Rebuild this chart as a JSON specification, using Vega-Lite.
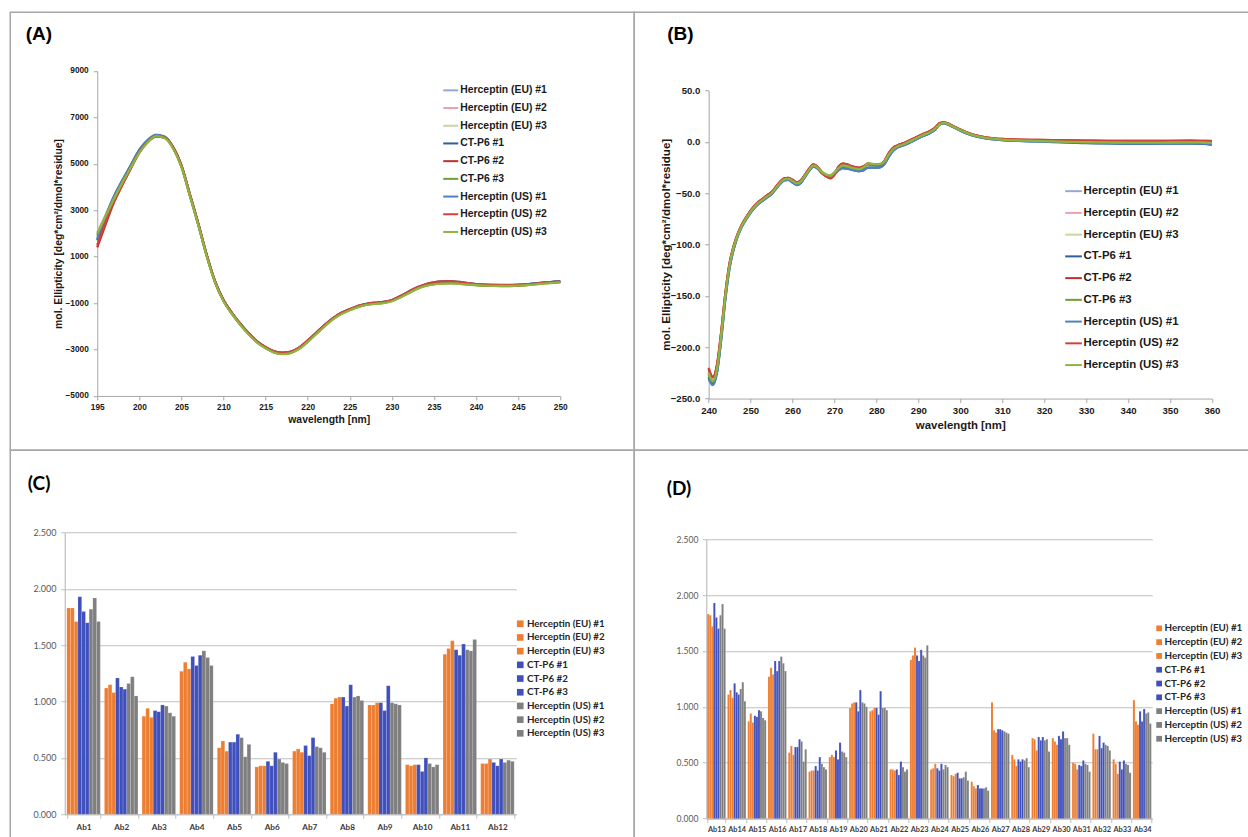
{
  "$schema": "https://vega.github.io/schema/vega-lite/v6.json",
  "background": "white",
  "padding": {"left": 9.25, "top": 11.25, "right": 0, "bottom": 0},
  "autosize": {"type": "pad"},
  "columns": 2,
  "spacing": 0,
  "bounds": "flush",
  "align": "each",
  "resolve": {"scale": {"color": "independent", "xOffset": "independent"}, "legend": {"color": "independent"}},
  "config": {
    "view": {"stroke": "#a6a6a6", "strokeWidth": 1.5},
    "axis": {"labelOverlap": false, "labelFlush": false, "labelBound": false},
    "legend": {"padding": 0}
  },
  "datasets": {
    "farUV": [
      {"nm":195,"e1":1800,"e2":2050,"e3":1950,"c1":1700,"c2":1400,"c3":1900,"u1":1750,"u2":1500,"u3":2000},
      {"nm":196,"e1":2650,"e2":2800,"e3":2750,"c1":2700,"c2":2400,"c3":2700,"u1":2750,"u2":2500,"u3":2750},
      {"nm":197,"e1":3500,"e2":3600,"e3":3550,"c1":3600,"c2":3350,"c3":3500,"u1":3600,"u2":3400,"u3":3500},
      {"nm":198,"e1":4200,"e2":4250,"e3":4250,"c1":4300,"c2":4100,"c3":4200,"u1":4300,"u2":4150,"u3":4200},
      {"nm":199,"e1":4880,"e2":4900,"e3":4920,"c1":4950,"c2":4800,"c3":4850,"u1":4950,"u2":4850,"u3":4850},
      {"nm":200,"e1":5520,"e2":5530,"e3":5580,"c1":5600,"c2":5480,"c3":5500,"u1":5600,"u2":5500,"u3":5480},
      {"nm":201,"e1":5980,"e2":5960,"e3":6040,"c1":6010,"c2":5940,"c3":5950,"u1":6020,"u2":5940,"u3":5930},
      {"nm":202,"e1":6220,"e2":6190,"e3":6260,"c1":6230,"c2":6170,"c3":6200,"u1":6240,"u2":6180,"u3":6190},
      {"nm":203,"e1":6150,"e2":6120,"e3":6180,"c1":6160,"c2":6130,"c3":6120,"u1":6160,"u2":6140,"u3":6110},
      {"nm":204,"e1":5700,"e2":5690,"e3":5710,"c1":5720,"c2":5730,"c3":5680,"u1":5710,"u2":5720,"u3":5670},
      {"nm":205,"e1":4900,"e2":4900,"e3":4880,"c1":4920,"c2":4930,"c3":4880,"u1":4900,"u2":4920,"u3":4870},
      {"nm":206,"e1":3660,"e2":3660,"e3":3640,"c1":3680,"c2":3690,"c3":3640,"u1":3660,"u2":3680,"u3":3630},
      {"nm":207,"e1":2400,"e2":2400,"e3":2380,"c1":2420,"c2":2430,"c3":2380,"u1":2400,"u2":2420,"u3":2370},
      {"nm":208,"e1":1060,"e2":1060,"e3":1040,"c1":1080,"c2":1080,"c3":1040,"u1":1060,"u2":1070,"u3":1030},
      {"nm":209,"e1":-90,"e2":-90,"e3":-110,"c1":-70,"c2":-80,"c3":-110,"u1":-90,"u2":-80,"u3":-120},
      {"nm":210,"e1":-890,"e2":-890,"e3":-910,"c1":-870,"c2":-880,"c3":-910,"u1":-890,"u2":-880,"u3":-920},
      {"nm":211,"e1":-1440,"e2":-1440,"e3":-1460,"c1":-1420,"c2":-1430,"c3":-1460,"u1":-1440,"u2":-1430,"u3":-1470},
      {"nm":212,"e1":-1910,"e2":-1910,"e3":-1930,"c1":-1890,"c2":-1900,"c3":-1930,"u1":-1910,"u2":-1900,"u3":-1940},
      {"nm":213,"e1":-2320,"e2":-2320,"e3":-2340,"c1":-2300,"c2":-2310,"c3":-2340,"u1":-2320,"u2":-2310,"u3":-2350},
      {"nm":214,"e1":-2670,"e2":-2670,"e3":-2690,"c1":-2650,"c2":-2660,"c3":-2690,"u1":-2670,"u2":-2660,"u3":-2700},
      {"nm":215,"e1":-2920,"e2":-2920,"e3":-2940,"c1":-2900,"c2":-2900,"c3":-2940,"u1":-2920,"u2":-2900,"u3":-2950},
      {"nm":216,"e1":-3100,"e2":-3100,"e3":-3120,"c1":-3080,"c2":-3080,"c3":-3120,"u1":-3100,"u2":-3080,"u3":-3130},
      {"nm":217,"e1":-3170,"e2":-3170,"e3":-3190,"c1":-3150,"c2":-3140,"c3":-3190,"u1":-3170,"u2":-3150,"u3":-3200},
      {"nm":218,"e1":-3120,"e2":-3120,"e3":-3140,"c1":-3100,"c2":-3090,"c3":-3140,"u1":-3120,"u2":-3100,"u3":-3150},
      {"nm":219,"e1":-2940,"e2":-2940,"e3":-2960,"c1":-2920,"c2":-2910,"c3":-2960,"u1":-2940,"u2":-2920,"u3":-2970},
      {"nm":220,"e1":-2640,"e2":-2640,"e3":-2660,"c1":-2620,"c2":-2610,"c3":-2660,"u1":-2640,"u2":-2620,"u3":-2670},
      {"nm":221,"e1":-2310,"e2":-2310,"e3":-2330,"c1":-2290,"c2":-2280,"c3":-2330,"u1":-2310,"u2":-2290,"u3":-2340},
      {"nm":222,"e1":-1970,"e2":-1970,"e3":-1990,"c1":-1950,"c2":-1950,"c3":-1990,"u1":-1970,"u2":-1950,"u3":-2000},
      {"nm":223,"e1":-1670,"e2":-1670,"e3":-1690,"c1":-1650,"c2":-1660,"c3":-1690,"u1":-1670,"u2":-1650,"u3":-1700},
      {"nm":224,"e1":-1440,"e2":-1440,"e3":-1460,"c1":-1420,"c2":-1430,"c3":-1460,"u1":-1440,"u2":-1420,"u3":-1470},
      {"nm":225,"e1":-1280,"e2":-1280,"e3":-1300,"c1":-1260,"c2":-1270,"c3":-1300,"u1":-1280,"u2":-1260,"u3":-1310},
      {"nm":226,"e1":-1140,"e2":-1140,"e3":-1160,"c1":-1120,"c2":-1140,"c3":-1160,"u1":-1140,"u2":-1120,"u3":-1170},
      {"nm":227,"e1":-1050,"e2":-1050,"e3":-1070,"c1":-1030,"c2":-1050,"c3":-1070,"u1":-1050,"u2":-1030,"u3":-1080},
      {"nm":228,"e1":-1000,"e2":-1000,"e3":-1020,"c1":-980,"c2":-1000,"c3":-1020,"u1":-1000,"u2":-980,"u3":-1030},
      {"nm":229,"e1":-970,"e2":-970,"e3":-990,"c1":-950,"c2":-970,"c3":-990,"u1":-970,"u2":-950,"u3":-1000},
      {"nm":230,"e1":-890,"e2":-890,"e3":-910,"c1":-870,"c2":-890,"c3":-910,"u1":-890,"u2":-870,"u3":-920},
      {"nm":231,"e1":-730,"e2":-730,"e3":-750,"c1":-700,"c2":-730,"c3":-750,"u1":-730,"u2":-700,"u3":-760},
      {"nm":232,"e1":-530,"e2":-530,"e3":-560,"c1":-500,"c2":-530,"c3":-560,"u1":-530,"u2":-500,"u3":-570},
      {"nm":233,"e1":-350,"e2":-350,"e3":-380,"c1":-320,"c2":-350,"c3":-380,"u1":-350,"u2":-320,"u3":-390},
      {"nm":234,"e1":-220,"e2":-220,"e3":-250,"c1":-190,"c2":-220,"c3":-250,"u1":-220,"u2":-190,"u3":-260},
      {"nm":235,"e1":-150,"e2":-150,"e3":-180,"c1":-110,"c2":-150,"c3":-180,"u1":-150,"u2":-110,"u3":-190},
      {"nm":236,"e1":-110,"e2":-110,"e3":-150,"c1":-70,"c2":-110,"c3":-150,"u1":-110,"u2":-70,"u3":-160},
      {"nm":237,"e1":-100,"e2":-100,"e3":-140,"c1":-60,"c2":-100,"c3":-140,"u1":-100,"u2":-60,"u3":-150},
      {"nm":238,"e1":-120,"e2":-120,"e3":-160,"c1":-90,"c2":-120,"c3":-160,"u1":-120,"u2":-90,"u3":-170},
      {"nm":239,"e1":-160,"e2":-160,"e3":-190,"c1":-140,"c2":-170,"c3":-190,"u1":-160,"u2":-140,"u3":-200},
      {"nm":240,"e1":-190,"e2":-190,"e3":-220,"c1":-180,"c2":-210,"c3":-220,"u1":-190,"u2":-180,"u3":-230},
      {"nm":242,"e1":-230,"e2":-240,"e3":-250,"c1":-220,"c2":-260,"c3":-250,"u1":-230,"u2":-220,"u3":-260},
      {"nm":244,"e1":-240,"e2":-250,"e3":-250,"c1":-220,"c2":-270,"c3":-250,"u1":-230,"u2":-230,"u3":-260},
      {"nm":246,"e1":-200,"e2":-200,"e3":-220,"c1":-190,"c2":-210,"c3":-220,"u1":-190,"u2":-200,"u3":-230},
      {"nm":248,"e1":-130,"e2":-130,"e3":-150,"c1":-120,"c2":-130,"c3":-150,"u1":-120,"u2":-130,"u3":-160},
      {"nm":250,"e1":-80,"e2":-80,"e3":-100,"c1":-70,"c2":-80,"c3":-100,"u1":-70,"u2":-80,"u3":-110}
    ],
    "nearUV": [
      {"nm":240,"e1":-224,"e2":-222,"e3":-226,"c1":-229,"c2":-221,"c3":-227,"u1":-231,"u2":-220,"u3":-225},
      {"nm":241,"e1":-233,"e2":-230,"e3":-234,"c1":-236,"c2":-229,"c3":-234,"u1":-237,"u2":-229,"u3":-233},
      {"nm":242,"e1":-221,"e2":-218,"e3":-222,"c1":-224,"c2":-217,"c3":-222,"u1":-225,"u2":-217,"u3":-221},
      {"nm":243,"e1":-189,"e2":-186,"e3":-190,"c1":-192,"c2":-185,"c3":-189,"u1":-192,"u2":-185,"u3":-188},
      {"nm":244,"e1":-150,"e2":-148,"e3":-151,"c1":-152,"c2":-147,"c3":-150,"u1":-153,"u2":-147,"u3":-149},
      {"nm":245,"e1":-121,"e2":-119,"e3":-121,"c1":-122,"c2":-118,"c3":-120,"u1":-123,"u2":-118,"u3":-120},
      {"nm":246,"e1":-103,"e2":-101,"e3":-103,"c1":-104,"c2":-101,"c3":-102,"u1":-104,"u2":-101,"u3":-102},
      {"nm":247,"e1":-91,"e2":-89,"e3":-90,"c1":-91,"c2":-89,"c3":-90,"u1":-91,"u2":-89,"u3":-90},
      {"nm":248,"e1":-81,"e2":-80,"e3":-81,"c1":-82,"c2":-80,"c3":-81,"u1":-82,"u2":-80,"u3":-81},
      {"nm":249,"e1":-74,"e2":-73,"e3":-74,"c1":-75,"c2":-73,"c3":-74,"u1":-75,"u2":-73,"u3":-74},
      {"nm":250,"e1":-68,"e2":-67,"e3":-68,"c1":-69,"c2":-67,"c3":-68,"u1":-69,"u2":-67,"u3":-68},
      {"nm":251,"e1":-63,"e2":-62,"e3":-63,"c1":-64,"c2":-62,"c3":-63,"u1":-64,"u2":-62,"u3":-63},
      {"nm":252,"e1":-59,"e2":-58,"e3":-59,"c1":-60,"c2":-58,"c3":-59,"u1":-60,"u2":-58,"u3":-59},
      {"nm":253,"e1":-56,"e2":-55,"e3":-56,"c1":-57,"c2":-55,"c3":-56,"u1":-57,"u2":-55,"u3":-56},
      {"nm":254,"e1":-53,"e2":-52,"e3":-53,"c1":-54,"c2":-52,"c3":-53,"u1":-54,"u2":-52,"u3":-53},
      {"nm":255,"e1":-50,"e2":-49,"e3":-50,"c1":-51,"c2":-49,"c3":-50,"u1":-51,"u2":-49,"u3":-50},
      {"nm":256,"e1":-45,"e2":-44,"e3":-45,"c1":-46,"c2":-44,"c3":-45,"u1":-46,"u2":-44,"u3":-45},
      {"nm":257,"e1":-40,"e2":-39,"e3":-40,"c1":-41,"c2":-39,"c3":-40,"u1":-41,"u2":-39,"u3":-40},
      {"nm":258,"e1":-36.5,"e2":-35.5,"e3":-36,"c1":-37.5,"c2":-35.5,"c3":-36.5,"u1":-37.5,"u2":-35.5,"u3":-36.5},
      {"nm":259,"e1":-36,"e2":-35,"e3":-35.5,"c1":-37,"c2":-35,"c3":-36,"u1":-37,"u2":-35,"u3":-36},
      {"nm":260,"e1":-38,"e2":-37,"e3":-37.5,"c1":-39.5,"c2":-37,"c3":-38,"u1":-39.5,"u2":-37,"u3":-38},
      {"nm":261,"e1":-40.5,"e2":-39.5,"e3":-40,"c1":-42,"c2":-39.5,"c3":-40.5,"u1":-42,"u2":-39.5,"u3":-40.5},
      {"nm":262,"e1":-38.5,"e2":-37.5,"e3":-38,"c1":-40,"c2":-37.5,"c3":-38.5,"u1":-40,"u2":-37.5,"u3":-38.5},
      {"nm":263,"e1":-33,"e2":-32,"e3":-32.5,"c1":-34,"c2":-32,"c3":-33,"u1":-34,"u2":-32,"u3":-33},
      {"nm":264,"e1":-27,"e2":-26,"e3":-26.5,"c1":-28,"c2":-26,"c3":-27,"u1":-28,"u2":-26,"u3":-27},
      {"nm":265,"e1":-23,"e2":-22,"e3":-22.5,"c1":-24,"c2":-22,"c3":-23,"u1":-24,"u2":-22,"u3":-23},
      {"nm":266,"e1":-25,"e2":-24.5,"e3":-24.5,"c1":-26,"c2":-24.5,"c3":-25,"u1":-26,"u2":-24.5,"u3":-25},
      {"nm":267,"e1":-29.5,"e2":-29.5,"e3":-29,"c1":-30.5,"c2":-30,"c3":-29.5,"u1":-30.5,"u2":-30,"u3":-29.5},
      {"nm":268,"e1":-32,"e2":-32.5,"e3":-31.5,"c1":-33,"c2":-33.5,"c3":-32,"u1":-33,"u2":-33.5,"u3":-32},
      {"nm":269,"e1":-33,"e2":-34,"e3":-32.5,"c1":-34,"c2":-35.5,"c3":-33,"u1":-34,"u2":-35,"u3":-33},
      {"nm":270,"e1":-30,"e2":-31,"e3":-29.5,"c1":-31.5,"c2":-32,"c3":-30,"u1":-31.5,"u2":-31.5,"u3":-30},
      {"nm":271,"e1":-25.5,"e2":-25,"e3":-25,"c1":-27.5,"c2":-24,"c3":-25.5,"u1":-27.5,"u2":-24,"u3":-25.5},
      {"nm":272,"e1":-23,"e2":-22,"e3":-22.5,"c1":-25.5,"c2":-21,"c3":-23,"u1":-25.5,"u2":-21.5,"u3":-23},
      {"nm":273,"e1":-23.5,"e2":-22.5,"e3":-23,"c1":-26,"c2":-22,"c3":-23.5,"u1":-26,"u2":-22,"u3":-23.5},
      {"nm":274,"e1":-25,"e2":-24,"e3":-24.5,"c1":-27,"c2":-23.5,"c3":-25,"u1":-27,"u2":-23.5,"u3":-25},
      {"nm":275,"e1":-26,"e2":-25,"e3":-25.5,"c1":-28,"c2":-24.5,"c3":-26,"u1":-28,"u2":-25,"u3":-26},
      {"nm":276,"e1":-26.5,"e2":-25.5,"e3":-26,"c1":-28.5,"c2":-25,"c3":-26.5,"u1":-28.5,"u2":-25.5,"u3":-26.5},
      {"nm":277,"e1":-25,"e2":-24,"e3":-24.5,"c1":-27.5,"c2":-23.5,"c3":-25,"u1":-27.5,"u2":-24,"u3":-24.5},
      {"nm":278,"e1":-22,"e2":-21.5,"e3":-21,"c1":-25,"c2":-21,"c3":-22,"u1":-25,"u2":-21.5,"u3":-21},
      {"nm":279,"e1":-22.5,"e2":-22,"e3":-21.5,"c1":-25,"c2":-22,"c3":-22.5,"u1":-25,"u2":-22,"u3":-21.5},
      {"nm":280,"e1":-23,"e2":-22.5,"e3":-22,"c1":-25,"c2":-22.5,"c3":-23,"u1":-25,"u2":-22.5,"u3":-22},
      {"nm":281,"e1":-22.5,"e2":-22,"e3":-21.5,"c1":-24.5,"c2":-22,"c3":-22.5,"u1":-24.5,"u2":-22,"u3":-21.5},
      {"nm":282,"e1":-19,"e2":-18,"e3":-18.5,"c1":-21,"c2":-18,"c3":-19,"u1":-21,"u2":-18,"u3":-18.5},
      {"nm":283,"e1":-12,"e2":-11,"e3":-11.5,"c1":-14,"c2":-10.5,"c3":-12,"u1":-14,"u2":-11,"u3":-12},
      {"nm":284,"e1":-7,"e2":-6,"e3":-6.5,"c1":-8.5,"c2":-5.5,"c3":-7,"u1":-8.5,"u2":-6,"u3":-7},
      {"nm":285,"e1":-4.5,"e2":-3.5,"e3":-4,"c1":-5.5,"c2":-3.5,"c3":-4.5,"u1":-5.5,"u2":-3.5,"u3":-4.5},
      {"nm":286,"e1":-3,"e2":-2,"e3":-2.5,"c1":-4,"c2":-2,"c3":-3,"u1":-4,"u2":-2,"u3":-3},
      {"nm":287,"e1":-1.5,"e2":-0.5,"e3":-1,"c1":-2.5,"c2":-0.5,"c3":-1.5,"u1":-2.5,"u2":-0.5,"u3":-1.5},
      {"nm":288,"e1":0.5,"e2":1.5,"e3":1,"c1":-0.5,"c2":1.5,"c3":0.5,"u1":-0.5,"u2":1.5,"u3":0.5},
      {"nm":289,"e1":2.5,"e2":3.5,"e3":3,"c1":1.5,"c2":3.5,"c3":2.5,"u1":1.5,"u2":3.5,"u3":2.5},
      {"nm":290,"e1":4.5,"e2":5.5,"e3":5,"c1":3.5,"c2":5.5,"c3":4.5,"u1":3.5,"u2":5.5,"u3":4.5},
      {"nm":291,"e1":6.5,"e2":7,"e3":7,"c1":5.5,"c2":7.5,"c3":6.5,"u1":5.5,"u2":7.5,"u3":6.5},
      {"nm":292,"e1":8,"e2":8.5,"e3":8.5,"c1":7,"c2":9,"c3":8,"u1":7,"u2":9,"u3":8},
      {"nm":293,"e1":10,"e2":10.5,"e3":10.5,"c1":9,"c2":11,"c3":10,"u1":9,"u2":11,"u3":10},
      {"nm":294,"e1":13,"e2":13.5,"e3":13.5,"c1":12,"c2":14,"c3":13,"u1":12,"u2":14,"u3":13},
      {"nm":295,"e1":17,"e2":17.5,"e3":17.5,"c1":16.5,"c2":18,"c3":17,"u1":16.5,"u2":18,"u3":17},
      {"nm":296,"e1":18.5,"e2":18.5,"e3":19,"c1":18,"c2":19,"c3":18.5,"u1":18,"u2":19,"u3":18.5},
      {"nm":297,"e1":17.5,"e2":17.5,"e3":18,"c1":17,"c2":18,"c3":17.5,"u1":17,"u2":18,"u3":17.5},
      {"nm":298,"e1":15.5,"e2":15.5,"e3":16,"c1":15,"c2":16,"c3":15.5,"u1":15,"u2":16,"u3":15.5},
      {"nm":299,"e1":13.5,"e2":13.5,"e3":14,"c1":13,"c2":14,"c3":13.5,"u1":13,"u2":14,"u3":13.5},
      {"nm":300,"e1":11.5,"e2":11.5,"e3":12,"c1":11,"c2":12,"c3":11.5,"u1":11,"u2":12,"u3":11.5},
      {"nm":302,"e1":8,"e2":8,"e3":8.5,"c1":7.5,"c2":8.5,"c3":8,"u1":7.5,"u2":8.5,"u3":8},
      {"nm":304,"e1":5.5,"e2":5.5,"e3":6,"c1":5,"c2":6,"c3":5.5,"u1":5,"u2":6,"u3":5.5},
      {"nm":306,"e1":4,"e2":4,"e3":4.5,"c1":3.5,"c2":4.5,"c3":4,"u1":3.5,"u2":4.5,"u3":4},
      {"nm":308,"e1":3,"e2":3,"e3":3.5,"c1":2.5,"c2":3.5,"c3":3,"u1":2.5,"u2":3.5,"u3":3},
      {"nm":310,"e1":2.3,"e2":2.5,"e3":2.5,"c1":1.8,"c2":2.8,"c3":2.3,"u1":1.8,"u2":2.8,"u3":2.2},
      {"nm":314,"e1":1.6,"e2":1.9,"e3":1.6,"c1":0.9,"c2":2.2,"c3":1.5,"u1":1,"u2":2.2,"u3":1.4},
      {"nm":318,"e1":1.2,"e2":1.6,"e3":1.1,"c1":0.4,"c2":2,"c3":1,"u1":0.5,"u2":2,"u3":0.9},
      {"nm":322,"e1":0.9,"e2":1.4,"e3":0.8,"c1":-0.1,"c2":1.8,"c3":0.6,"u1":0,"u2":1.8,"u3":0.5},
      {"nm":326,"e1":0.5,"e2":1,"e3":0.4,"c1":-0.6,"c2":1.5,"c3":0.2,"u1":-0.5,"u2":1.5,"u3":0.1},
      {"nm":330,"e1":0.2,"e2":0.8,"e3":0,"c1":-1.2,"c2":1.2,"c3":-0.2,"u1":-1,"u2":1.2,"u3":-0.3},
      {"nm":335,"e1":0,"e2":0.7,"e3":-0.2,"c1":-1.5,"c2":1,"c3":-0.4,"u1":-1.4,"u2":1,"u3":-0.5},
      {"nm":340,"e1":-0.2,"e2":0.6,"e3":-0.4,"c1":-1.8,"c2":0.9,"c3":-0.6,"u1":-1.7,"u2":0.9,"u3":-0.7},
      {"nm":345,"e1":-0.2,"e2":0.6,"e3":-0.4,"c1":-1.8,"c2":0.9,"c3":-0.6,"u1":-1.7,"u2":0.9,"u3":-0.7},
      {"nm":350,"e1":-0.2,"e2":0.7,"e3":-0.3,"c1":-1.7,"c2":1,"c3":-0.5,"u1":-1.6,"u2":1,"u3":-0.6},
      {"nm":355,"e1":-0.1,"e2":0.8,"e3":-0.2,"c1":-1.6,"c2":1.1,"c3":-0.4,"u1":-1.5,"u2":1.1,"u3":-0.5},
      {"nm":358,"e1":-0.2,"e2":0.7,"e3":-0.3,"c1":-1.8,"c2":1,"c3":-0.5,"u1":-1.7,"u2":1,"u3":-0.6},
      {"nm":360,"e1":-0.5,"e2":0.6,"e3":-0.6,"c1":-2.8,"c2":0.8,"c3":-0.8,"u1":-3,"u2":0.9,"u3":-0.9}
    ],
    "elisaC": [
      {"ab":"Ab1","e1":1.83,"e2":1.83,"e3":1.71,"c1":1.93,"c2":1.80,"c3":1.70,"u1":1.82,"u2":1.92,"u3":1.71},
      {"ab":"Ab2","e1":1.12,"e2":1.15,"e3":1.08,"c1":1.21,"c2":1.13,"c3":1.11,"u1":1.16,"u2":1.22,"u3":1.05},
      {"ab":"Ab3","e1":0.87,"e2":0.94,"e3":0.86,"c1":0.92,"c2":0.91,"c3":0.97,"u1":0.96,"u2":0.90,"u3":0.87},
      {"ab":"Ab4","e1":1.27,"e2":1.35,"e3":1.29,"c1":1.40,"c2":1.32,"c3":1.41,"u1":1.45,"u2":1.39,"u3":1.32},
      {"ab":"Ab5","e1":0.59,"e2":0.65,"e3":0.56,"c1":0.64,"c2":0.64,"c3":0.71,"u1":0.68,"u2":0.51,"u3":0.62},
      {"ab":"Ab6","e1":0.42,"e2":0.43,"e3":0.43,"c1":0.47,"c2":0.43,"c3":0.55,"u1":0.49,"u2":0.46,"u3":0.45},
      {"ab":"Ab7","e1":0.56,"e2":0.58,"e3":0.55,"c1":0.61,"c2":0.52,"c3":0.68,"u1":0.60,"u2":0.59,"u3":0.55},
      {"ab":"Ab8","e1":0.98,"e2":1.03,"e3":1.04,"c1":1.04,"c2":0.96,"c3":1.15,"u1":1.04,"u2":1.05,"u3":1.01},
      {"ab":"Ab9","e1":0.97,"e2":0.97,"e3":0.99,"c1":0.99,"c2":0.92,"c3":1.14,"u1":0.99,"u2":0.98,"u3":0.97},
      {"ab":"Ab10","e1":0.44,"e2":0.43,"e3":0.44,"c1":0.44,"c2":0.38,"c3":0.50,"u1":0.45,"u2":0.42,"u3":0.44},
      {"ab":"Ab11","e1":1.42,"e2":1.47,"e3":1.54,"c1":1.46,"c2":1.41,"c3":1.51,"u1":1.46,"u2":1.45,"u3":1.55},
      {"ab":"Ab12","e1":0.45,"e2":0.45,"e3":0.49,"c1":0.46,"c2":0.43,"c3":0.49,"u1":0.46,"u2":0.48,"u3":0.47}
    ],
    "elisaD": [
      {"ab":"Ab13","e1":1.83,"e2":1.82,"e3":1.72,"c1":1.93,"c2":1.80,"c3":1.70,"u1":1.82,"u2":1.92,"u3":1.70},
      {"ab":"Ab14","e1":1.11,"e2":1.15,"e3":1.08,"c1":1.21,"c2":1.13,"c3":1.11,"u1":1.16,"u2":1.22,"u3":1.05},
      {"ab":"Ab15","e1":0.87,"e2":0.94,"e3":0.86,"c1":0.92,"c2":0.91,"c3":0.97,"u1":0.96,"u2":0.90,"u3":0.88},
      {"ab":"Ab16","e1":1.27,"e2":1.35,"e3":1.29,"c1":1.41,"c2":1.32,"c3":1.41,"u1":1.45,"u2":1.39,"u3":1.32},
      {"ab":"Ab17","e1":0.59,"e2":0.65,"e3":0.57,"c1":0.64,"c2":0.64,"c3":0.71,"u1":0.69,"u2":0.51,"u3":0.62},
      {"ab":"Ab18","e1":0.42,"e2":0.43,"e3":0.43,"c1":0.47,"c2":0.43,"c3":0.55,"u1":0.49,"u2":0.46,"u3":0.44},
      {"ab":"Ab19","e1":0.55,"e2":0.57,"e3":0.55,"c1":0.61,"c2":0.53,"c3":0.68,"u1":0.60,"u2":0.59,"u3":0.55},
      {"ab":"Ab20","e1":0.99,"e2":1.03,"e3":1.04,"c1":1.04,"c2":0.96,"c3":1.15,"u1":1.04,"u2":1.03,"u3":1.00},
      {"ab":"Ab21","e1":0.96,"e2":0.97,"e3":0.99,"c1":0.99,"c2":0.93,"c3":1.14,"u1":0.99,"u2":0.99,"u3":0.97},
      {"ab":"Ab22","e1":0.44,"e2":0.44,"e3":0.43,"c1":0.44,"c2":0.39,"c3":0.51,"u1":0.46,"u2":0.42,"u3":0.44},
      {"ab":"Ab23","e1":1.42,"e2":1.46,"e3":1.53,"c1":1.46,"c2":1.41,"c3":1.51,"u1":1.46,"u2":1.44,"u3":1.55},
      {"ab":"Ab24","e1":0.44,"e2":0.45,"e3":0.49,"c1":0.45,"c2":0.43,"c3":0.49,"u1":0.44,"u2":0.48,"u3":0.46},
      {"ab":"Ab25","e1":0.39,"e2":0.38,"e3":0.40,"c1":0.41,"c2":0.36,"c3":0.36,"u1":0.37,"u2":0.42,"u3":0.34},
      {"ab":"Ab26","e1":0.33,"e2":0.29,"e3":0.27,"c1":0.30,"c2":0.27,"c3":0.27,"u1":0.27,"u2":0.28,"u3":0.25},
      {"ab":"Ab27","e1":1.04,"e2":0.79,"e3":0.77,"c1":0.80,"c2":0.80,"c3":0.79,"u1":0.78,"u2":0.77,"u3":0.76},
      {"ab":"Ab28","e1":0.57,"e2":0.53,"e3":0.47,"c1":0.53,"c2":0.51,"c3":0.53,"u1":0.52,"u2":0.54,"u3":0.46},
      {"ab":"Ab29","e1":0.72,"e2":0.71,"e3":0.61,"c1":0.73,"c2":0.70,"c3":0.73,"u1":0.70,"u2":0.71,"u3":0.60},
      {"ab":"Ab30","e1":0.72,"e2":0.69,"e3":0.66,"c1":0.74,"c2":0.71,"c3":0.78,"u1":0.72,"u2":0.72,"u3":0.66},
      {"ab":"Ab31","e1":0.50,"e2":0.49,"e3":0.44,"c1":0.48,"c2":0.47,"c3":0.52,"u1":0.49,"u2":0.48,"u3":0.42},
      {"ab":"Ab32","e1":0.76,"e2":0.62,"e3":0.62,"c1":0.74,"c2":0.63,"c3":0.68,"u1":0.66,"u2":0.65,"u3":0.61},
      {"ab":"Ab33","e1":0.53,"e2":0.49,"e3":0.40,"c1":0.51,"c2":0.44,"c3":0.52,"u1":0.49,"u2":0.48,"u3":0.41},
      {"ab":"Ab34","e1":1.06,"e2":0.87,"e3":0.84,"c1":0.96,"c2":0.87,"c3":0.98,"u1":0.94,"u2":0.95,"u3":0.85}
    ]
  },
  "concat": [
    {
      "width": 624,
      "height": 438,
      "title": {"text": "(A)", "anchor": "start", "frame": "group", "orient": "top", "offset": -46.5, "baseline": "alphabetic", "dx": 15.5, "font": "Liberation Sans", "fontSize": 19, "fontWeight": "bold", "color": "#000000"},
      "data": {"name": "farUV"},
      "transform": [{"fold": ["e1", "e2", "e3", "c1", "c2", "c3", "u1", "u2", "u3"], "as": ["series", "value"]}],
      "mark": {"type": "line", "strokeWidth": 2.3, "interpolate": "monotone"},
      "encoding": {
        "x": {
          "field": "nm", "type": "quantitative",
          "scale": {"domain": [195, 250], "range": [87, 550], "nice": false, "zero": false},
          "axis": {"orient": "bottom", "offset": -54.3, "values": [195, 200, 205, 210, 215, 220, 225, 230, 235, 240, 245, 250], "grid": false,
            "tickSize": 4, "tickColor": "#a6a6a6", "domainColor": "#a6a6a6",
            "labelFont": "Liberation Sans", "labelFontSize": 8.3, "labelFontWeight": "bold", "labelColor": "#1a1a1a", "labelPadding": 2.3,
            "title": "wavelength [nm]", "titleFont": "Liberation Sans", "titleFontSize": 10.4, "titleFontWeight": "bold", "titleColor": "#1a1a1a", "titleY": 23.3, "titleBaseline": "middle"}
        },
        "y": {
          "field": "value", "type": "quantitative",
          "scale": {"domain": [-5000, 9000], "range": [383.7, 58.7], "nice": false, "zero": false},
          "axis": {"orient": "left", "offset": -87, "values": [-5000, -3000, -1000, 1000, 3000, 5000, 7000, 9000], "format": "d", "grid": false,
            "tickSize": 4, "tickColor": "#a6a6a6", "domainColor": "#a6a6a6",
            "labelFont": "Liberation Sans", "labelFontSize": 8.3, "labelFontWeight": "bold", "labelColor": "#1a1a1a", "labelPadding": 5,
            "title": "mol. Ellipticity [deg*cm²/dmol*residue]", "titleFont": "Liberation Sans", "titleFontSize": 10.4, "titleFontWeight": "bold", "titleColor": "#1a1a1a",
            "titleX": -38.5, "titleY": 221.2, "titleAngle": 270, "titleBaseline": "middle", "titleAlign": "center"}
        },
        "color": {
          "field": "series", "type": "nominal",
          "scale": {"domain": ["e1", "e2", "e3", "c1", "c2", "c3", "u1", "u2", "u3"], "range": ["#98a8d6", "#e6a3ad", "#c8d6a0", "#2f5d9e", "#c0302a", "#6f9e34", "#4f81bd", "#d0433a", "#8fb53f"]},
          "legend": {"orient": "none", "legendX": 432, "legendY": 69.6, "title": null, "symbolType": "stroke", "symbolSize": 225, "symbolStrokeWidth": 2,
            "labelFont": "Liberation Sans", "labelFontSize": 10.4, "labelFontWeight": "bold", "labelColor": "#1a1a1a", "labelOffset": 1, "rowPadding": 3.7, "padding": 0,
            "labelExpr": "{'e1':'Herceptin (EU) #1','e2':'Herceptin (EU) #2','e3':'Herceptin (EU) #3','c1':'CT-P6 #1','c2':'CT-P6 #2','c3':'CT-P6 #3','u1':'Herceptin (US) #1','u2':'Herceptin (US) #2','u3':'Herceptin (US) #3'}[datum.label]"}
        }
      }
    },
    {
      "width": 615,
      "height": 438,
      "title": {"text": "(B)", "anchor": "start", "frame": "group", "orient": "top", "offset": -46.5, "baseline": "alphabetic", "dx": 33, "font": "Liberation Sans", "fontSize": 19, "fontWeight": "bold", "color": "#000000"},
      "data": {"name": "nearUV"},
      "transform": [{"fold": ["e1", "e2", "e3", "c1", "c2", "c3", "u1", "u2", "u3"], "as": ["series", "value"]}],
      "mark": {"type": "line", "strokeWidth": 2.3, "interpolate": "monotone"},
      "encoding": {
        "x": {
          "field": "nm", "type": "quantitative",
          "scale": {"domain": [240, 360], "range": [74.4, 577.7], "nice": false, "zero": false},
          "axis": {"orient": "bottom", "offset": -51.7, "values": [240, 250, 260, 270, 280, 290, 300, 310, 320, 330, 340, 350, 360], "grid": false,
            "tickSize": 4, "tickColor": "#a6a6a6", "domainColor": "#a6a6a6",
            "labelFont": "Liberation Sans", "labelFontSize": 9.6, "labelFontWeight": "bold", "labelColor": "#1a1a1a", "labelPadding": 2.5,
            "title": "wavelength [nm]", "titleFont": "Liberation Sans", "titleFontSize": 11.4, "titleFontWeight": "bold", "titleColor": "#1a1a1a", "titleY": 26.7, "titleBaseline": "middle"}
        },
        "y": {
          "field": "value", "type": "quantitative",
          "scale": {"domain": [-250, 50], "range": [386.3, 78.3], "nice": false, "zero": false},
          "axis": {"orient": "left", "offset": -74.4, "values": [-250, -200, -150, -100, -50, 0, 50], "format": ".1f", "grid": false,
            "tickSize": 4, "tickColor": "#a6a6a6", "domainColor": "#a6a6a6",
            "labelFont": "Liberation Sans", "labelFontSize": 9.6, "labelFontWeight": "bold", "labelColor": "#1a1a1a", "labelPadding": 4.8,
            "title": "mol. Ellipticity [deg*cm²/dmol*residue]", "titleFont": "Liberation Sans", "titleFontSize": 11.6, "titleFontWeight": "bold", "titleColor": "#1a1a1a",
            "titleX": -41.8, "titleY": 232, "titleAngle": 270, "titleBaseline": "middle", "titleAlign": "center"}
        },
        "color": {
          "field": "series", "type": "nominal",
          "scale": {"domain": ["e1", "e2", "e3", "c1", "c2", "c3", "u1", "u2", "u3"], "range": ["#98a8d6", "#e6a3ad", "#c8d6a0", "#2f5d9e", "#c0302a", "#6f9e34", "#4f81bd", "#d0433a", "#8fb53f"]},
          "legend": {"orient": "none", "legendX": 429.8, "legendY": 169.4, "title": null, "symbolType": "stroke", "symbolSize": 276, "symbolStrokeWidth": 2,
            "labelFont": "Liberation Sans", "labelFontSize": 11.4, "labelFontWeight": "bold", "labelColor": "#1a1a1a", "labelOffset": 0.5, "rowPadding": 6.74, "padding": 0,
            "labelExpr": "{'e1':'Herceptin (EU) #1','e2':'Herceptin (EU) #2','e3':'Herceptin (EU) #3','c1':'CT-P6 #1','c2':'CT-P6 #2','c3':'CT-P6 #3','u1':'Herceptin (US) #1','u2':'Herceptin (US) #2','u3':'Herceptin (US) #3'}[datum.label]"}
        }
      }
    },
    {
      "width": 624,
      "height": 388,
      "title": {"text": "(C)", "anchor": "start", "frame": "group", "orient": "top", "offset": -58.5, "baseline": "alphabetic", "dx": 17.5, "font": "Lato", "fontSize": 19, "fontWeight": "bold", "color": "#000000"},
      "data": {"name": "elisaC"},
      "transform": [{"fold": ["e1", "e2", "e3", "c1", "c2", "c3", "u1", "u2", "u3"], "as": ["series", "od"]}],
      "mark": {"type": "bar", "stroke": "#ffffff", "strokeOpacity": 0.3, "strokeWidth": 0.5},
      "encoding": {
        "x": {
          "field": "ab", "type": "nominal",
          "scale": {"domain": ["Ab1", "Ab2", "Ab3", "Ab4", "Ab5", "Ab6", "Ab7", "Ab8", "Ab9", "Ab10", "Ab11", "Ab12"], "range": [54.5, 506], "paddingInner": 0.11, "paddingOuter": 0.055},
          "axis": {"orient": "bottom", "offset": -24, "title": null, "tickBand": "extent", "labelAngle": 0,
            "tickSize": 4, "tickColor": "#bfbfbf", "domainColor": "#bfbfbf", "domainWidth": 1.2,
            "labelFont": "Lato", "labelFontSize": 8.2, "labelFontWeight": "bold", "labelColor": "#3a3a3a", "labelPadding": 5}
        },
        "xOffset": {"field": "series", "type": "nominal", "scale": {"domain": ["e1", "e2", "e3", "c1", "c2", "c3", "u1", "u2", "u3"]}},
        "y": {
          "field": "od", "type": "quantitative",
          "scale": {"domain": [0, 2.5], "range": [364, 82.3], "nice": false},
          "axis": {"orient": "left", "offset": -54.5, "values": [0, 0.5, 1, 1.5, 2, 2.5], "format": ".3f", "title": null,
            "grid": true, "gridColor": "#bfbfbf", "gridWidth": 1.2,
            "tickSize": 4, "tickColor": "#bfbfbf", "domainColor": "#bfbfbf", "domainWidth": 1.2,
            "labelFont": "Lato", "labelFontSize": 9, "labelColor": "#595959", "labelPadding": 4.8}
        },
        "color": {
          "field": "series", "type": "nominal",
          "scale": {"domain": ["e1", "e2", "e3", "c1", "c2", "c3", "u1", "u2", "u3"], "range": ["#ed7d31", "#ed7d31", "#ed7d31", "#3f4fbc", "#3f4fbc", "#3f4fbc", "#7f7f7f", "#7f7f7f", "#7f7f7f"]},
          "legend": {"orient": "none", "legendX": 505.1, "legendY": 168.6, "title": null, "symbolType": "square", "symbolSize": 44, "symbolStrokeWidth": 0,
            "labelFont": "Lato", "labelFontSize": 9.8, "labelFontWeight": "bold", "labelColor": "#262626", "labelOffset": 1.8, "rowPadding": 2.7, "padding": 0,
            "labelExpr": "{'e1':'Herceptin (EU) #1','e2':'Herceptin (EU) #2','e3':'Herceptin (EU) #3','c1':'CT-P6 #1','c2':'CT-P6 #2','c3':'CT-P6 #3','u1':'Herceptin (US) #1','u2':'Herceptin (US) #2','u3':'Herceptin (US) #3'}[datum.label]"}
        }
      }
    },
    {
      "width": 615,
      "height": 388,
      "title": {"text": "(D)", "anchor": "start", "frame": "group", "orient": "top", "offset": -63.5, "baseline": "alphabetic", "dx": 32.5, "font": "Lato", "fontSize": 19, "fontWeight": "bold", "color": "#000000"},
      "data": {"name": "elisaD"},
      "transform": [{"fold": ["e1", "e2", "e3", "c1", "c2", "c3", "u1", "u2", "u3"], "as": ["series", "od"]}],
      "mark": {"type": "bar", "stroke": "#ffffff", "strokeOpacity": 0.3, "strokeWidth": 0.4},
      "encoding": {
        "x": {
          "field": "ab", "type": "nominal",
          "scale": {"domain": ["Ab13", "Ab14", "Ab15", "Ab16", "Ab17", "Ab18", "Ab19", "Ab20", "Ab21", "Ab22", "Ab23", "Ab24", "Ab25", "Ab26", "Ab27", "Ab28", "Ab29", "Ab30", "Ab31", "Ab32", "Ab33", "Ab34"], "range": [72, 518], "paddingInner": 0.09, "paddingOuter": 0.045},
          "axis": {"orient": "bottom", "offset": -19.7, "title": null, "tickBand": "extent", "labelAngle": 0,
            "tickSize": 4, "tickColor": "#bfbfbf", "domainColor": "#bfbfbf", "domainWidth": 1.2,
            "labelFont": "Lato", "labelFontSize": 7.4, "labelFontWeight": "bold", "labelColor": "#3a3a3a", "labelPadding": 2.7}
        },
        "xOffset": {"field": "series", "type": "nominal", "scale": {"domain": ["e1", "e2", "e3", "c1", "c2", "c3", "u1", "u2", "u3"]}},
        "y": {
          "field": "od", "type": "quantitative",
          "scale": {"domain": [0, 2.5], "range": [368.3, 89], "nice": false},
          "axis": {"orient": "left", "offset": -72, "values": [0, 0.5, 1, 1.5, 2, 2.5], "format": ".3f", "title": null,
            "grid": true, "gridColor": "#bfbfbf", "gridWidth": 1.2,
            "tickSize": 4, "tickColor": "#bfbfbf", "domainColor": "#bfbfbf", "domainWidth": 1.2,
            "labelFont": "Lato", "labelFontSize": 8.5, "labelColor": "#595959", "labelPadding": 4.4}
        },
        "color": {
          "field": "series", "type": "nominal",
          "scale": {"domain": ["e1", "e2", "e3", "c1", "c2", "c3", "u1", "u2", "u3"], "range": ["#ed7d31", "#ed7d31", "#ed7d31", "#3f4fbc", "#3f4fbc", "#3f4fbc", "#7f7f7f", "#7f7f7f", "#7f7f7f"]},
          "legend": {"orient": "none", "legendX": 520, "legendY": 173.2, "title": null, "symbolType": "square", "symbolSize": 33, "symbolStrokeWidth": 0,
            "labelFont": "Lato", "labelFontSize": 9.8, "labelFontWeight": "bold", "labelColor": "#262626", "labelOffset": 0.5, "rowPadding": 2.8, "padding": 0,
            "labelExpr": "{'e1':'Herceptin (EU) #1','e2':'Herceptin (EU) #2','e3':'Herceptin (EU) #3','c1':'CT-P6 #1','c2':'CT-P6 #2','c3':'CT-P6 #3','u1':'Herceptin (US) #1','u2':'Herceptin (US) #2','u3':'Herceptin (US) #3'}[datum.label]"}
        }
      }
    }
  ]
}
